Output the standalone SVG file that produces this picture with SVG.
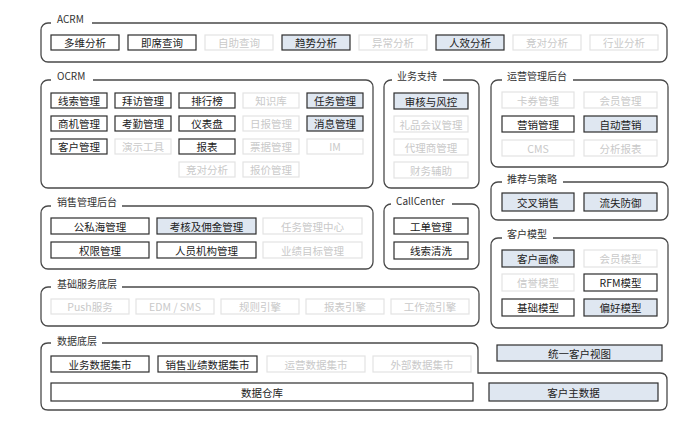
<svg xmlns="http://www.w3.org/2000/svg" width="700" height="429" viewBox="0 0 700 429">
<style>
text{font-family:"Noto Sans CJK SC","Noto Sans",sans-serif;}
.panel{fill:none;stroke:#4a4a4a;stroke-width:1.3;}
.gap{fill:#fff;stroke:none;}
.ttl{font-size:10px;fill:#333;}
.box rect{stroke-width:1.2;}
.box text{font-size:10.5px;text-anchor:middle;dominant-baseline:central;}
.n rect{fill:#fff;stroke:#2e2e2e;}
.n text{fill:#222;}
.b rect{fill:#dfe7f1;stroke:#2e2e2e;}
.b text{fill:#222;}
.f rect{fill:#fff;stroke:#e3e3e3;}
.f text{fill:#c9c9c9;}
</style>
<rect width="700" height="429" fill="#fff"/>

<!-- ACRM -->
<g id="acrm">
<rect class="panel" x="41" y="23" width="626" height="39" rx="7"/>
<rect class="gap" x="51" y="16" width="41" height="12"/>
<text class="ttl" x="57" y="23">ACRM</text>
<g id="acrm-1" class="box n"><rect x="51" y="35" width="68" height="15"/><text x="85" y="42.5">多维分析</text></g>
<g id="acrm-2" class="box n"><rect x="128" y="35" width="68" height="15"/><text x="162" y="42.5">即席查询</text></g>
<g id="acrm-3" class="box f"><rect x="205" y="35" width="68" height="15"/><text x="239" y="42.5">自助查询</text></g>
<g id="acrm-4" class="box b"><rect x="282" y="35" width="68" height="15"/><text x="316" y="42.5">趋势分析</text></g>
<g id="acrm-5" class="box f"><rect x="359" y="35" width="68" height="15"/><text x="393" y="42.5">异常分析</text></g>
<g id="acrm-6" class="box b"><rect x="436" y="35" width="68" height="15"/><text x="470" y="42.5">人效分析</text></g>
<g id="acrm-7" class="box f"><rect x="513" y="35" width="68" height="15"/><text x="547" y="42.5">竞对分析</text></g>
<g id="acrm-8" class="box f"><rect x="590" y="35" width="68" height="15"/><text x="624" y="42.5">行业分析</text></g>
</g>

<!-- OCRM -->
<g id="ocrm">
<rect class="panel" x="41" y="80" width="332" height="108" rx="7"/>
<rect class="gap" x="51" y="72" width="42" height="12"/>
<text class="ttl" x="57" y="80">OCRM</text>
<g id="ocrm-1" class="box n"><rect x="51" y="93" width="56" height="15"/><text x="79" y="100.5">线索管理</text></g>
<g id="ocrm-2" class="box n"><rect x="115" y="93" width="56" height="15"/><text x="143" y="100.5">拜访管理</text></g>
<g id="ocrm-3" class="box n"><rect x="179" y="93" width="56" height="15"/><text x="207" y="100.5">排行榜</text></g>
<g id="ocrm-4" class="box f"><rect x="243" y="93" width="56" height="15"/><text x="271" y="100.5">知识库</text></g>
<g id="ocrm-5" class="box b"><rect x="307" y="93" width="56" height="15"/><text x="335" y="100.5">任务管理</text></g>
<g id="ocrm-6" class="box n"><rect x="51" y="116" width="56" height="15"/><text x="79" y="123.5">商机管理</text></g>
<g id="ocrm-7" class="box n"><rect x="115" y="116" width="56" height="15"/><text x="143" y="123.5">考勤管理</text></g>
<g id="ocrm-8" class="box n"><rect x="179" y="116" width="56" height="15"/><text x="207" y="123.5">仪表盘</text></g>
<g id="ocrm-9" class="box f"><rect x="243" y="116" width="56" height="15"/><text x="271" y="123.5">日报管理</text></g>
<g id="ocrm-10" class="box b"><rect x="307" y="116" width="56" height="15"/><text x="335" y="123.5">消息管理</text></g>
<g id="ocrm-11" class="box n"><rect x="51" y="139" width="56" height="15"/><text x="79" y="146.5">客户管理</text></g>
<g id="ocrm-12" class="box f"><rect x="115" y="139" width="56" height="15"/><text x="143" y="146.5">演示工具</text></g>
<g id="ocrm-13" class="box n"><rect x="179" y="139" width="56" height="15"/><text x="207" y="146.5">报表</text></g>
<g id="ocrm-14" class="box f"><rect x="243" y="139" width="56" height="15"/><text x="271" y="146.5">票据管理</text></g>
<g id="ocrm-15" class="box f"><rect x="307" y="139" width="56" height="15"/><text x="335" y="146.5">IM</text></g>
<g id="ocrm-16" class="box f"><rect x="179" y="162" width="56" height="15"/><text x="207" y="169.5">竞对分析</text></g>
<g id="ocrm-17" class="box f"><rect x="243" y="162" width="56" height="15"/><text x="271" y="169.5">报价管理</text></g>
</g>

<!-- 业务支持 -->
<g id="biz-support">
<rect class="panel" x="384" y="80" width="95" height="108" rx="7"/>
<rect class="gap" x="392" y="72" width="51" height="12"/>
<text class="ttl" x="397" y="80">业务支持</text>
<g id="bs-1" class="box b"><rect x="394" y="93" width="74" height="16"/><text x="431" y="101">审核与风控</text></g>
<g id="bs-2" class="box f"><rect x="394" y="116" width="74" height="16"/><text x="431" y="124">礼品会议管理</text></g>
<g id="bs-3" class="box f"><rect x="394" y="139" width="74" height="16"/><text x="431" y="147">代理商管理</text></g>
<g id="bs-4" class="box f"><rect x="394" y="162" width="74" height="16"/><text x="431" y="170">财务辅助</text></g>
</g>

<!-- 运营管理后台 -->
<g id="ops-admin">
<rect class="panel" x="491" y="80" width="177" height="87" rx="7"/>
<rect class="gap" x="502" y="72" width="71" height="12"/>
<text class="ttl" x="507" y="80">运营管理后台</text>
<g id="ops-1" class="box f"><rect x="502" y="92" width="72" height="16"/><text x="538" y="100">卡券管理</text></g>
<g id="ops-2" class="box f"><rect x="584" y="92" width="73" height="16"/><text x="620.5" y="100">会员管理</text></g>
<g id="ops-3" class="box n"><rect x="502" y="116" width="72" height="16"/><text x="538" y="124">营销管理</text></g>
<g id="ops-4" class="box b"><rect x="584" y="116" width="73" height="16"/><text x="620.5" y="124">自动营销</text></g>
<g id="ops-5" class="box f"><rect x="502" y="140" width="72" height="16"/><text x="538" y="148">CMS</text></g>
<g id="ops-6" class="box f"><rect x="584" y="140" width="73" height="16"/><text x="620.5" y="148">分析报表</text></g>
</g>

<!-- 推荐与策略 -->
<g id="recommend">
<rect class="panel" x="491" y="182" width="177" height="38" rx="7"/>
<rect class="gap" x="502" y="174" width="61" height="12"/>
<text class="ttl" x="507" y="183">推荐与策略</text>
<g id="rec-1" class="box b"><rect x="502" y="193" width="72" height="18"/><text x="538" y="202">交叉销售</text></g>
<g id="rec-2" class="box b"><rect x="584" y="193" width="73" height="18"/><text x="620.5" y="202">流失防御</text></g>
</g>

<!-- 销售管理后台 -->
<g id="sales-admin">
<rect class="panel" x="41" y="206" width="332" height="63" rx="7"/>
<rect class="gap" x="51" y="198" width="71" height="12"/>
<text class="ttl" x="57" y="206">销售管理后台</text>
<g id="sa-1" class="box n"><rect x="51" y="218" width="98" height="16"/><text x="100" y="226">公私海管理</text></g>
<g id="sa-2" class="box b"><rect x="157" y="218" width="99" height="16"/><text x="206.5" y="226">考核及佣金管理</text></g>
<g id="sa-3" class="box f"><rect x="263" y="218" width="99" height="16"/><text x="312.5" y="226">任务管理中心</text></g>
<g id="sa-4" class="box n"><rect x="51" y="242" width="98" height="16"/><text x="100" y="250">权限管理</text></g>
<g id="sa-5" class="box n"><rect x="157" y="242" width="99" height="16"/><text x="206.5" y="250">人员机构管理</text></g>
<g id="sa-6" class="box f"><rect x="263" y="242" width="99" height="16"/><text x="312.5" y="250">业绩目标管理</text></g>
</g>

<!-- CallCenter -->
<g id="callcenter">
<rect class="panel" x="384" y="204" width="95" height="65" rx="7"/>
<rect class="gap" x="391" y="196" width="61" height="12"/>
<text class="ttl" x="396" y="205">CallCenter</text>
<g id="cc-1" class="box n"><rect x="394" y="218" width="74" height="16"/><text x="431" y="226">工单管理</text></g>
<g id="cc-2" class="box n"><rect x="394" y="242" width="74" height="17"/><text x="431" y="250.5">线索清洗</text></g>
</g>

<!-- 客户模型 -->
<g id="customer-model">
<rect class="panel" x="491" y="238" width="177" height="90" rx="7"/>
<rect class="gap" x="502" y="230" width="51" height="12"/>
<text class="ttl" x="507" y="238">客户模型</text>
<g id="cm-1" class="box b"><rect x="502" y="250" width="72" height="17"/><text x="538" y="258.5">客户画像</text></g>
<g id="cm-2" class="box f"><rect x="584" y="250" width="73" height="17"/><text x="620.5" y="258.5">会员模型</text></g>
<g id="cm-3" class="box f"><rect x="502" y="274" width="72" height="17"/><text x="538" y="282.5">信誉模型</text></g>
<g id="cm-4" class="box n"><rect x="584" y="274" width="73" height="17"/><text x="620.5" y="282.5">RFM模型</text></g>
<g id="cm-5" class="box n"><rect x="502" y="299" width="72" height="17"/><text x="538" y="307.5">基础模型</text></g>
<g id="cm-6" class="box b"><rect x="584" y="299" width="73" height="17"/><text x="620.5" y="307.5">偏好模型</text></g>
</g>

<!-- 基础服务底层 -->
<g id="base-service">
<rect class="panel" x="41" y="287" width="438" height="39" rx="7"/>
<rect class="gap" x="51" y="279" width="71" height="12"/>
<text class="ttl" x="57" y="288">基础服务底层</text>
<g id="bsv-1" class="box f"><rect x="51" y="299" width="78" height="15"/><text x="90" y="306.5">Push服务</text></g>
<g id="bsv-2" class="box f"><rect x="136" y="299" width="78" height="15"/><text x="175" y="306.5">EDM / SMS</text></g>
<g id="bsv-3" class="box f"><rect x="221" y="299" width="78" height="15"/><text x="260" y="306.5">规则引擎</text></g>
<g id="bsv-4" class="box f"><rect x="306" y="299" width="78" height="15"/><text x="345" y="306.5">报表引擎</text></g>
<g id="bsv-5" class="box f"><rect x="391" y="299" width="78" height="15"/><text x="430" y="306.5">工作流引擎</text></g>
</g>

<!-- 数据底层 -->
<g id="data-layer">
<path class="panel" d="M48,343 H471 Q478,343 478,350 V373 H660 Q667,373 667,380 V403 Q667,410 660,410 H48 Q41,410 41,403 V350 Q41,343 48,343 Z"/>
<rect class="gap" x="51" y="336" width="51" height="12"/>
<text class="ttl" x="57" y="345">数据底层</text>
<g id="dl-1" class="box n"><rect x="51" y="356" width="98" height="16"/><text x="100" y="364">业务数据集市</text></g>
<g id="dl-2" class="box n"><rect x="158" y="356" width="99" height="16"/><text x="207.5" y="364">销售业绩数据集市</text></g>
<g id="dl-3" class="box f"><rect x="267" y="356" width="98" height="16"/><text x="316" y="364">运营数据集市</text></g>
<g id="dl-4" class="box f"><rect x="373" y="356" width="98" height="16"/><text x="422" y="364">外部数据集市</text></g>
<g id="dl-5" class="box n"><rect x="51" y="383" width="422" height="18"/><text x="262" y="392">数据仓库</text></g>
<g id="dl-6" class="box b"><rect x="489" y="383" width="169" height="18"/><text x="573.5" y="392">客户主数据</text></g>
</g>

<g id="unified-view" class="box b"><rect x="497" y="345" width="165" height="16"/><text x="579.5" y="353">统一客户视图</text></g>

<g id="connectors"></g>
</svg>
